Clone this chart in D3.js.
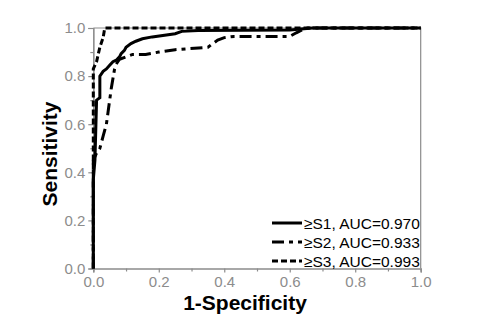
<!DOCTYPE html>
<html><head><meta charset="utf-8">
<script src="https://cdn.jsdelivr.net/npm/d3@7"></script>
<style>body{margin:0;background:#fff}svg{display:block}</style>
</head><body>
<script>
// Data
const s1X = [0,0,0.005,0.008,0.01,0.02,0.02,0.03,0.04,0.05,0.06,0.07,0.08,0.085,0.095,0.1,0.115,0.13,0.15,0.18,0.25,0.27,0.32,0.6,0.67,1];
const s1Y = [0,0.37,0.45,0.6,0.7,0.71,0.8,0.82,0.83,0.845,0.86,0.866,0.88,0.893,0.907,0.92,0.935,0.945,0.955,0.963,0.976,0.986,0.99,0.992,1,1];
const s2X = [0,0,0.01,0.02,0.03,0.04,0.045,0.05,0.055,0.06,0.065,0.07,0.08,0.1,0.12,0.16,0.2,0.25,0.35,0.38,0.4,0.43,0.6,0.62,0.65,1];
const s2Y = [0,0.45,0.48,0.5,0.55,0.6,0.65,0.7,0.75,0.79,0.83,0.85,0.87,0.88,0.89,0.89,0.9,0.91,0.92,0.95,0.96,0.965,0.965,0.98,1,1];
const s3X = [0,0,0.01,0.02,0.03,0.035,1];
const s3Y = [0,0.83,0.86,0.92,0.96,1,1];
const seriesNames = ["≥S1, AUC=0.970","≥S2, AUC=0.933","≥S3, AUC=0.993"];
const xTicks = [0,0.2,0.4,0.6,0.8,1.0];
const yTicks = [0,0.2,0.4,0.6,0.8,1.0];
const minorTicks = [0.1,0.3,0.5,0.7,0.9];

const W = 484, H = 323;
const m = {l:93.3, r:63.3, t:28, b:54.5};
const svg = d3.select("body").append("svg").attr("width",W).attr("height",H);
const x = d3.scaleLinear().domain([0,1]).range([m.l, W-m.r]);
const y = d3.scaleLinear().domain([0,1]).range([H-m.b, m.t]);
const gray = "#8c8c8c";
const font = "Arial, 'Liberation Sans', sans-serif";

// frame (top/right)
svg.append("path").attr("d",`M${x(0)},${y(1)}H${x(1)}V${y(0)}`).attr("fill","none").attr("stroke",gray).attr("stroke-width",1.2);

// axes
const xAxis = svg.append("g").attr("transform",`translate(0,${y(0)})`)
  .call(d3.axisBottom(x).tickValues(xTicks).tickFormat(d3.format(".1f")).tickSize(4).tickPadding(4));
const xMinor = svg.append("g").attr("transform",`translate(0,${y(0)})`)
  .call(d3.axisBottom(x).tickValues(minorTicks).tickFormat("").tickSize(3));
const yAxis = svg.append("g").attr("transform",`translate(${x(0)},0)`)
  .call(d3.axisLeft(y).tickValues(yTicks).tickFormat(d3.format(".1f")).tickSize(5).tickPadding(3));
const yMinor = svg.append("g").attr("transform",`translate(${x(0)},0)`)
  .call(d3.axisLeft(y).tickValues(minorTicks).tickFormat("").tickSize(3));
[xAxis,xMinor,yAxis,yMinor].forEach(g=>{
  g.selectAll("path").attr("stroke",gray).attr("stroke-width",1.2);
  g.selectAll("line").attr("stroke",gray).attr("stroke-width",1.2);
  g.selectAll("text").attr("fill",gray).style("font-family",font).style("font-size","15px");
});

// curves
const line = d3.line().x(d=>x(d[0])).y(d=>y(d[1]));
const series = [
  {pts:d3.zip(s1X,s1Y), dash:null},
  {pts:d3.zip(s2X,s2Y), dash:"12,5,4,5"},
  {pts:d3.zip(s3X,s3Y), dash:"6,3"}
];
// draw S3 first, then S2, then S1
[2,1,0].forEach(i=>{
  svg.append("path").attr("d",line(series[i].pts)).attr("fill","none")
    .attr("stroke","#000").attr("stroke-width",3)
    .attr("stroke-dasharray",series[i].dash);
});

// legend
const legY = [223,242,261];
seriesNames.forEach((n,i)=>{
  svg.append("line").attr("x1",272).attr("x2",302).attr("y1",legY[i]).attr("y2",legY[i])
    .attr("stroke","#000").attr("stroke-width",3).attr("stroke-dasharray",series[i].dash);
  svg.append("text").attr("x",304).attr("y",legY[i]+5.5).text(n)
    .style("font-family",font).style("font-size","15.5px").attr("fill","#000");
});

// axis titles
svg.append("text").attr("x",245).attr("y",310).attr("text-anchor","middle")
  .style("font-family",font).style("font-size","21px").style("font-weight","bold").text("1-Specificity");
svg.append("text").attr("transform","translate(57,154) rotate(-90)").attr("text-anchor","middle")
  .style("font-family",font).style("font-size","21px").style("font-weight","bold").text("Sensitivity");
</script>
</body></html>
